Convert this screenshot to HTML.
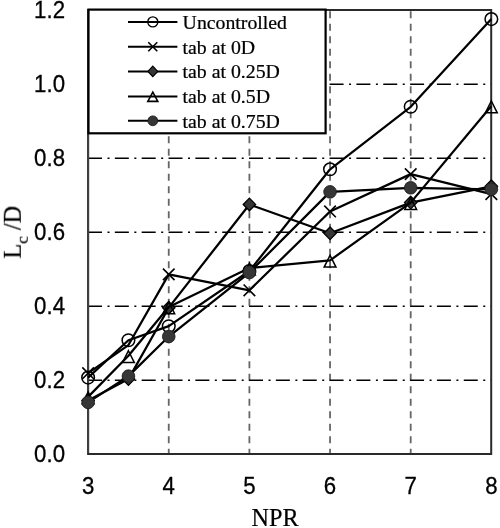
<!DOCTYPE html>
<html><head><meta charset="utf-8"><style>
html,body{margin:0;padding:0;background:#fff;width:500px;height:528px;overflow:hidden}
svg{display:block;will-change:transform}
text{fill:#000;stroke:#000;stroke-width:0.22px}
.s{stroke:#000;stroke-width:0.3px}
</style></head><body>
<svg width="500" height="528" viewBox="0 0 500 528">
<line x1="168.75" y1="11.2" x2="168.75" y2="454" stroke="#666" stroke-width="1.8" stroke-dasharray="7 5.5"/>
<line x1="249.40" y1="11.2" x2="249.40" y2="454" stroke="#666" stroke-width="1.8" stroke-dasharray="7 5.5"/>
<line x1="330.05" y1="11.2" x2="330.05" y2="454" stroke="#666" stroke-width="1.8" stroke-dasharray="7 5.5"/>
<line x1="410.70" y1="11.2" x2="410.70" y2="454" stroke="#666" stroke-width="1.8" stroke-dasharray="7 5.5"/>
<line x1="88" y1="380.20" x2="491" y2="380.20" stroke="#000" stroke-width="1.6" stroke-dasharray="14 5.5 2 5.34"/>
<line x1="88" y1="306.20" x2="491" y2="306.20" stroke="#000" stroke-width="1.6" stroke-dasharray="14 5.5 2 5.34"/>
<line x1="88" y1="232.20" x2="491" y2="232.20" stroke="#000" stroke-width="1.6" stroke-dasharray="14 5.5 2 5.34"/>
<line x1="88" y1="158.20" x2="491" y2="158.20" stroke="#000" stroke-width="1.6" stroke-dasharray="14 5.5 2 5.34"/>
<line x1="88" y1="84.20" x2="491" y2="84.20" stroke="#000" stroke-width="1.6" stroke-dasharray="14 5.5 2 5.34"/>
<path d="M88.1 9.9H491.2V454H88.1Z" fill="none" stroke="#2a2a2a" stroke-width="2"/>
<path d="M88.1 10V453" fill="none" stroke="#404040" stroke-width="2"/>
<polyline points="88.10,377.61 128.43,340.24 168.75,326.18 249.40,271.05 330.05,169.30 410.70,106.77 491.35,19.08" fill="none" stroke="#000" stroke-width="2.25" stroke-linejoin="round"/>
<circle cx="88.10" cy="377.61" r="6.3" fill="none" stroke="#000" stroke-width="1.5"/>
<circle cx="128.43" cy="340.24" r="6.3" fill="none" stroke="#000" stroke-width="1.5"/>
<circle cx="168.75" cy="326.18" r="6.3" fill="none" stroke="#000" stroke-width="1.5"/>
<circle cx="249.40" cy="271.05" r="6.3" fill="none" stroke="#000" stroke-width="1.5"/>
<circle cx="330.05" cy="169.30" r="6.3" fill="none" stroke="#000" stroke-width="1.5"/>
<circle cx="410.70" cy="106.77" r="6.3" fill="none" stroke="#000" stroke-width="1.5"/>
<circle cx="491.35" cy="19.08" r="6.3" fill="none" stroke="#000" stroke-width="1.5"/>
<polyline points="88.10,373.17 128.43,345.05 168.75,274.38 249.40,290.29 330.05,211.48 410.70,174.11 491.35,194.09" fill="none" stroke="#000" stroke-width="2.25" stroke-linejoin="round"/>
<path d="M82.30 367.37L93.90 378.97M82.30 378.97L93.90 367.37" stroke="#000" stroke-width="1.6" fill="none"/>
<path d="M162.95 268.58L174.55 280.18M162.95 280.18L174.55 268.58" stroke="#000" stroke-width="1.6" fill="none"/>
<path d="M243.60 284.49L255.20 296.09M243.60 296.09L255.20 284.49" stroke="#000" stroke-width="1.6" fill="none"/>
<path d="M324.25 205.68L335.85 217.28M324.25 217.28L335.85 205.68" stroke="#000" stroke-width="1.6" fill="none"/>
<path d="M404.90 168.31L416.50 179.91M404.90 179.91L416.50 168.31" stroke="#000" stroke-width="1.6" fill="none"/>
<path d="M485.55 188.29L497.15 199.89M485.55 199.89L497.15 188.29" stroke="#000" stroke-width="1.6" fill="none"/>
<polyline points="88.10,400.55 128.43,379.09 168.75,307.68 249.40,204.45 330.05,233.31 410.70,202.60 491.35,186.32" fill="none" stroke="#000" stroke-width="2.25" stroke-linejoin="round"/>
<path d="M88.10 394.25L94.30 400.55L88.10 406.85L81.90 400.55Z" fill="#363636" stroke="#000" stroke-width="1.3"/>
<path d="M128.43 372.79L134.62 379.09L128.43 385.39L122.23 379.09Z" fill="#363636" stroke="#000" stroke-width="1.3"/>
<path d="M168.75 301.38L174.95 307.68L168.75 313.98L162.55 307.68Z" fill="#363636" stroke="#000" stroke-width="1.3"/>
<path d="M249.40 198.15L255.60 204.45L249.40 210.75L243.20 204.45Z" fill="#363636" stroke="#000" stroke-width="1.3"/>
<path d="M330.05 227.01L336.25 233.31L330.05 239.61L323.85 233.31Z" fill="#363636" stroke="#000" stroke-width="1.3"/>
<path d="M410.70 196.30L416.90 202.60L410.70 208.90L404.50 202.60Z" fill="#363636" stroke="#000" stroke-width="1.3"/>
<path d="M491.35 180.02L497.55 186.32L491.35 192.62L485.15 186.32Z" fill="#363636" stroke="#000" stroke-width="1.3"/>
<polyline points="88.10,396.85 128.43,355.78 168.75,306.94 249.40,268.09 330.05,260.32 410.70,202.60 491.35,106.03" fill="none" stroke="#000" stroke-width="2.25" stroke-linejoin="round"/>
<path d="M88.10 391.85L94.00 403.65L82.20 403.65Z" fill="none" stroke="#000" stroke-width="1.5" stroke-linejoin="miter"/>
<path d="M128.43 350.78L134.33 362.58L122.53 362.58Z" fill="none" stroke="#000" stroke-width="1.5" stroke-linejoin="miter"/>
<path d="M168.75 301.94L174.65 313.74L162.85 313.74Z" fill="none" stroke="#000" stroke-width="1.5" stroke-linejoin="miter"/>
<path d="M249.40 263.09L255.30 274.89L243.50 274.89Z" fill="none" stroke="#000" stroke-width="1.5" stroke-linejoin="miter"/>
<path d="M330.05 255.32L335.95 267.12L324.15 267.12Z" fill="none" stroke="#000" stroke-width="1.5" stroke-linejoin="miter"/>
<path d="M410.70 197.60L416.60 209.40L404.80 209.40Z" fill="none" stroke="#000" stroke-width="1.5" stroke-linejoin="miter"/>
<path d="M491.35 101.03L497.25 112.83L485.45 112.83Z" fill="none" stroke="#000" stroke-width="1.5" stroke-linejoin="miter"/>
<polyline points="88.10,402.40 128.43,376.13 168.75,336.54 249.40,272.53 330.05,191.87 410.70,187.80 491.35,189.28" fill="none" stroke="#000" stroke-width="2.25" stroke-linejoin="round"/>
<circle cx="88.10" cy="402.40" r="6.3" fill="#363636" stroke="#1e1e1e" stroke-width="0.9"/>
<circle cx="128.43" cy="376.13" r="6.3" fill="#363636" stroke="#1e1e1e" stroke-width="0.9"/>
<circle cx="168.75" cy="336.54" r="6.3" fill="#363636" stroke="#1e1e1e" stroke-width="0.9"/>
<circle cx="249.40" cy="272.53" r="6.3" fill="#363636" stroke="#1e1e1e" stroke-width="0.9"/>
<circle cx="330.05" cy="191.87" r="6.3" fill="#363636" stroke="#1e1e1e" stroke-width="0.9"/>
<circle cx="410.70" cy="187.80" r="6.3" fill="#363636" stroke="#1e1e1e" stroke-width="0.9"/>
<circle cx="491.35" cy="189.28" r="6.3" fill="#363636" stroke="#1e1e1e" stroke-width="0.9"/>
<rect x="88.5" y="9.6" width="237.1" height="123.7" fill="#fff" stroke="#000" stroke-width="2.2"/>
<line x1="128" y1="21.9" x2="177.4" y2="21.9" stroke="#000" stroke-width="2"/>
<circle cx="152.80" cy="21.90" r="5.0" fill="none" stroke="#000" stroke-width="1.4"/>
<text x="182.6" y="28.8" font-family="Liberation Serif" font-size="19.8">Uncontrolled</text>
<line x1="128" y1="46.7" x2="177.4" y2="46.7" stroke="#000" stroke-width="2"/>
<path d="M148.30 42.20L157.30 51.20M148.30 51.20L157.30 42.20" stroke="#000" stroke-width="1.6" fill="none"/>
<text x="182.6" y="53.6" font-family="Liberation Serif" font-size="19.8">tab at 0D</text>
<line x1="128" y1="71.4" x2="177.4" y2="71.4" stroke="#000" stroke-width="2"/>
<path d="M152.80 66.10L157.70 71.40L152.80 76.70L147.90 71.40Z" fill="#363636" stroke="#000" stroke-width="1.2"/>
<text x="182.6" y="78.3" font-family="Liberation Serif" font-size="19.8">tab at 0.25D</text>
<line x1="128" y1="96.4" x2="177.4" y2="96.4" stroke="#000" stroke-width="2"/>
<path d="M152.80 92.10L157.80 101.40L147.80 101.40Z" fill="none" stroke="#000" stroke-width="1.6" stroke-linejoin="miter"/>
<text x="182.6" y="103.3" font-family="Liberation Serif" font-size="19.8">tab at 0.5D</text>
<line x1="128" y1="120.8" x2="177.4" y2="120.8" stroke="#000" stroke-width="2"/>
<circle cx="152.80" cy="120.80" r="4.9" fill="#363636" stroke="#1e1e1e" stroke-width="0.9"/>
<text x="182.6" y="127.7" font-family="Liberation Serif" font-size="19.8">tab at 0.75D</text>
<text transform="translate(65.0,462.20) scale(0.935,1)" text-anchor="end" font-family="Liberation Sans" font-size="23.8" class="s">0.0</text>
<text transform="translate(65.0,388.20) scale(0.935,1)" text-anchor="end" font-family="Liberation Sans" font-size="23.8" class="s">0.2</text>
<text transform="translate(65.0,314.20) scale(0.935,1)" text-anchor="end" font-family="Liberation Sans" font-size="23.8" class="s">0.4</text>
<text transform="translate(65.0,240.20) scale(0.935,1)" text-anchor="end" font-family="Liberation Sans" font-size="23.8" class="s">0.6</text>
<text transform="translate(65.0,166.20) scale(0.935,1)" text-anchor="end" font-family="Liberation Sans" font-size="23.8" class="s">0.8</text>
<text transform="translate(65.0,92.20) scale(0.935,1)" text-anchor="end" font-family="Liberation Sans" font-size="23.8" class="s">1.0</text>
<text transform="translate(65.0,18.20) scale(0.935,1)" text-anchor="end" font-family="Liberation Sans" font-size="23.8" class="s">1.2</text>
<text transform="translate(88.10,494.2) scale(0.935,1)" text-anchor="middle" font-family="Liberation Sans" font-size="23.8" class="s">3</text>
<text transform="translate(168.75,494.2) scale(0.935,1)" text-anchor="middle" font-family="Liberation Sans" font-size="23.8" class="s">4</text>
<text transform="translate(249.40,494.2) scale(0.935,1)" text-anchor="middle" font-family="Liberation Sans" font-size="23.8" class="s">5</text>
<text transform="translate(330.05,494.2) scale(0.935,1)" text-anchor="middle" font-family="Liberation Sans" font-size="23.8" class="s">6</text>
<text transform="translate(410.70,494.2) scale(0.935,1)" text-anchor="middle" font-family="Liberation Sans" font-size="23.8" class="s">7</text>
<text transform="translate(491.35,494.2) scale(0.935,1)" text-anchor="middle" font-family="Liberation Sans" font-size="23.8" class="s">8</text>
<text x="275" y="525.8" text-anchor="middle" font-family="Liberation Serif" font-size="24.2">NPR</text>
<text transform="translate(20.8,258.6) rotate(-90)" font-family="Liberation Serif" font-size="24.2">L<tspan font-size="17.5" dy="7.4">c</tspan><tspan dy="-7.4"> /D</tspan></text>
</svg>
</body></html>
